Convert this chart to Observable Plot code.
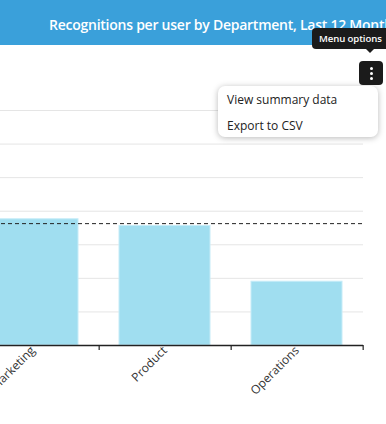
<!DOCTYPE html>
<html>
<head>
<meta charset="utf-8">
<script src="https://cdn.jsdelivr.net/npm/d3@7"></script>
<script src="https://cdn.jsdelivr.net/npm/@observablehq/plot@0.6"></script>
<style>
  html, body { margin: 0; padding: 0; background: #fff; }
  #wrap { position: relative; width: 386px; height: 424px; overflow: hidden; font-family: "Open Sans", sans-serif; }
  #header { position: absolute; left: 0; top: 0; width: 386px; height: 45px; background: #3aa0da; }
  #title { position: absolute; left: 49px; top: 15px; white-space: nowrap; color: #fff; font-size: 14px; font-weight: 600; letter-spacing: -0.25px; }
  #chart { position: absolute; left: -34px; top: 100px; }
  #tip { position: absolute; left: 312px; top: 28px; width: 80px; height: 21px; background: #1b1b1b; border-radius: 4px; color: #fff; font-size: 9.6px; font-weight: 600; line-height: 21px; padding-left: 7px; box-sizing: border-box; white-space: nowrap; letter-spacing: -0.1px; }
  #tiparrow { position: absolute; left: 366px; top: 49px; width: 0; height: 0; border-left: 4px solid transparent; border-right: 4px solid transparent; border-top: 4px solid #1b1b1b; }
  #menubtn { position: absolute; left: 359px; top: 61px; width: 24px; height: 24px; background: #1b1b1b; border-radius: 4px; }
  #menubtn span { position: absolute; left: 10.5px; width: 3px; height: 3px; border-radius: 50%; background: #fff; }
  #dropdown { position: absolute; left: 218px; top: 86px; width: 160px; height: 51px; background: #fff; border-radius: 7px; box-shadow: 0 1px 6px rgba(0,0,0,0.28); font-size: 12px; color: #222; }
  #dropdown div { position: absolute; left: 9px; white-space: nowrap; }
</style>
</head>
<body>
<div id="wrap">
  <div id="header"><div id="title"></div></div>
  <div id="chart"></div>
  <div id="dropdown"></div>
  <div id="tip">Menu options</div>
  <div id="tiparrow"></div>
  <div id="menubtn"><span style="top:6px"></span><span style="top:11px"></span><span style="top:16px"></span></div>
</div>
<script>
const titleText = "Recognitions per user by Department, Last 12 Months";
const menuItems = ["View summary data", "Export to CSV"];
const departments = ["Marketing", "Product", "Operations"];
const recognitionsPerUser = [3.76, 3.56, 1.90];
const averageValue = 3.63;
const yTicks = [0, 1, 2, 3, 4, 5, 6, 7];

document.getElementById("title").textContent = titleText;
const dd = document.getElementById("dropdown");
menuItems.forEach((t, i) => {
  const d = document.createElement("div");
  d.textContent = t;
  d.style.top = (i === 0 ? 5 : 31) + "px";
  dd.appendChild(d);
});

const data = departments.map((d, i) => ({dept: d, value: recognitionsPerUser[i]}));

const W = 420, H = 324, mL = 0, mR = 23, mT = 10, mB = 79;
const step = (W - mL - mR) / departments.length;

const chart = Plot.plot({
  width: W,
  height: H,
  marginLeft: mL,
  marginRight: mR,
  marginTop: mT,
  marginBottom: mB,
  style: {fontFamily: "Open Sans, sans-serif", fontSize: "12px", color: "#333", background: "transparent"},
  x: {domain: departments, paddingInner: 0.31, paddingOuter: 0.155, label: null},
  y: {domain: [0, 7], label: null},
  marks: [
    Plot.gridY(yTicks, {stroke: "#e5e5e5", strokeOpacity: 1, strokeWidth: 1}),
    Plot.barY(data, {x: "dept", y: "value", fill: "#a0def0", stroke: "#c6ecf8", strokeWidth: 1}),
    Plot.ruleY([averageValue], {stroke: "#222", strokeWidth: 1, strokeDasharray: "4,3"}),
    Plot.ruleY([0], {stroke: "#222", strokeWidth: 1.3}),
    Plot.axisX({tickSize: 5, tickFormat: () => "", dx: step / 2, stroke: "#222", strokeWidth: 1.2}),
    Plot.axisX({tickSize: 0, tickRotate: -45, tickPadding: 3, fill: "#333", fontSize: 12})
  ]
});
document.getElementById("chart").appendChild(chart);
</script>
</body>
</html>
